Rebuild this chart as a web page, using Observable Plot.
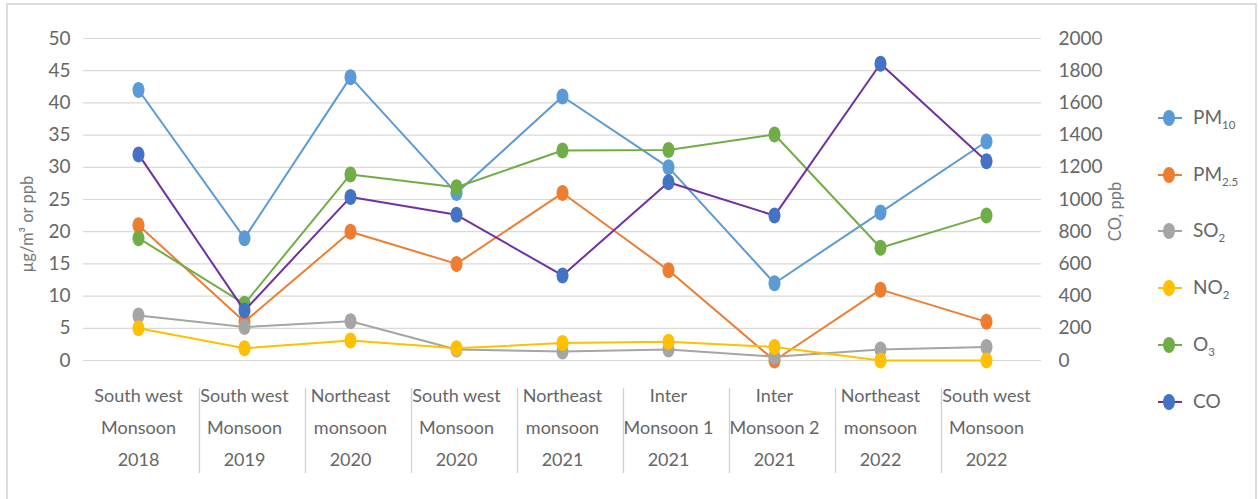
<!DOCTYPE html>
<html><head><meta charset="utf-8">
<script src="https://cdn.jsdelivr.net/npm/d3@7"></script>
<script src="https://cdn.jsdelivr.net/npm/@observablehq/plot@0.6"></script>
<style>
body{margin:0;background:#fff;font-family:Lato,sans-serif;}
#wrap{position:relative;width:1258px;height:499px;overflow:hidden;background:#fff;}
#border{position:absolute;left:6px;top:3px;width:1251px;height:540px;border:2.5px solid #dcdcdc;box-sizing:border-box;}
#chart{position:absolute;left:0;top:0;}
.item{position:absolute;height:20px;}
.item svg{position:absolute;left:0;top:0;}
.item span{position:absolute;left:36px;top:-3px;font-size:19px;color:#666;white-space:nowrap;line-height:24px;}
.item sub{font-size:11.5px;vertical-align:-5px;line-height:0;}
</style></head>
<body>
<div id="wrap"><div id="border"></div><div id="chart"></div><div id="legend"></div></div>
<script>
const categories = ["South west\nMonsoon\n2018","South west\nMonsoon\n2019","Northeast\nmonsoon\n2020","South west\nMonsoon\n2020","Northeast\nmonsoon\n2021","Inter\nMonsoon 1\n2021","Inter\nMonsoon 2\n2021","Northeast\nmonsoon\n2022","South west\nMonsoon\n2022"];
const pm10 = [42, 19, 44, 26, 41, 30, 12, 23, 34];
const pm25 = [21, 6, 20, 15, 26, 14, 0, 11, 6];
const so2  = [7, 5.2, 6.1, 1.7, 1.4, 1.7, 0.6, 1.7, 2.1];
const no2  = [5, 1.9, 3.1, 1.9, 2.7, 2.9, 2.1, 0, 0];
const o3   = [19, 8.8, 28.9, 26.9, 32.6, 32.7, 35.1, 17.5, 22.5];
const co   = [1280, 310, 1015, 905, 528, 1107, 900, 1843, 1238];
const leftTicks = [0, 5, 10, 15, 20, 25, 30, 35, 40, 45, 50];
const rightTicks = [0, 200, 400, 600, 800, 1000, 1200, 1400, 1600, 1800, 2000];
const seriesNames = ["PM10", "PM2.5", "SO2", "NO2", "O3", "CO"];
const legendLabels = ["PM<sub>10</sub>", "PM<sub>2.5</sub>", "SO<sub>2</sub>", "NO<sub>2</sub>", "O<sub>3</sub>", "CO"];
const leftTitle = "µg/m³ or ppb";
const rightTitle = "CO, ppb";

const coRatio = 2000 / 50;
const lineColors = ["#5B9BD5", "#ED7D31", "#A5A5A5", "#FFC000", "#70AD47", "#7030A0"];
const markerColors = ["#5B9BD5", "#ED7D31", "#A5A5A5", "#FFC000", "#70AD47", "#4472C4"];
const seriesValues = [pm10, pm25, so2, no2, o3, co.map(v => v / coRatio)];

const ellipse = {
  draw(ctx, size) {
    const r = Math.sqrt(size / Math.PI);
    const rx = r * 0.75, ry = r, k = 0.5523;
    ctx.moveTo(rx, 0);
    ctx.bezierCurveTo(rx, ry * k, rx * k, ry, 0, ry);
    ctx.bezierCurveTo(-rx * k, ry, -rx, ry * k, -rx, 0);
    ctx.bezierCurveTo(-rx, -ry * k, -rx * k, -ry, 0, -ry);
    ctx.bezierCurveTo(rx * k, -ry, rx, -ry * k, rx, 0);
    ctx.closePath();
  }
};

const marks = [
  Plot.gridY(leftTicks, {stroke: "#d9d9d9", strokeOpacity: 1, strokeWidth: 1.2}),
  Plot.axisY(leftTicks, {anchor: "left", tickSize: 0, tickPadding: 13, label: null, fill: "#666", fontSize: 19}),
  Plot.axisY(rightTicks.map(v => v / coRatio), {anchor: "right", tickSize: 0, tickPadding: 17, label: null, fill: "#666", fontSize: 19, tickFormat: d => String(Math.round(d * coRatio))}),
  Plot.axisX(categories, {anchor: "bottom", tickSize: 0, tickPadding: 19, lineHeight: 1.78, label: null, fill: "#666"}),
  Plot.ruleX(categories.slice(1), {x: d => d, dx: -45, dy: 113, insetTop: 237, stroke: "#d0d0d0", strokeWidth: 1.3}),
  Plot.text([leftTitle], {frameAnchor: "left", textAnchor: "middle", dx: -56, dy: 24.6, rotate: -90, fontSize: 16.5, fill: "#777"}),
  Plot.text([rightTitle], {frameAnchor: "right", textAnchor: "middle", dx: 74, dy: 12, rotate: -90, fontSize: 16.5, fill: "#777"})
];

seriesNames.forEach((name, s) => {
  const rows = categories.map((c, i) => ({cat: c, v: seriesValues[s][i]}));
  marks.push(Plot.line(rows, {x: "cat", y: "v", stroke: lineColors[s], strokeWidth: 2}));
  marks.push(Plot.dot(rows, {x: "cat", y: "v", symbol: ellipse, r: 8, fill: markerColors[s], stroke: "none"}));
});

const chart = Plot.plot({
  width: 1258, height: 499,
  marginLeft: 83, marginRight: 217, marginTop: 38, marginBottom: 139,
  style: {fontFamily: "Lato, sans-serif", fontSize: "18px", color: "#666", background: "transparent", overflow: "visible"},
  x: {type: "point", domain: categories, padding: 0.5, axis: null},
  y: {domain: [0, 50], axis: null},
  marks
});
document.getElementById("chart").appendChild(chart);

const legend = document.getElementById("legend");
const legendTop = 118, legendStep = 56.7;
seriesNames.forEach((name, s) => {
  const item = document.createElement("div");
  item.className = "item";
  item.style.left = "1157px";
  item.style.top = (legendTop + s * legendStep - 10) + "px";
  item.innerHTML = `<svg width="28" height="20"><line x1="1" x2="25" y1="10" y2="10" stroke="${lineColors[s]}" stroke-width="2"/><ellipse cx="12" cy="10" rx="6" ry="8" fill="${markerColors[s]}"/></svg><span>${legendLabels[s]}</span>`;
  legend.appendChild(item);
});
</script>
</body></html>
